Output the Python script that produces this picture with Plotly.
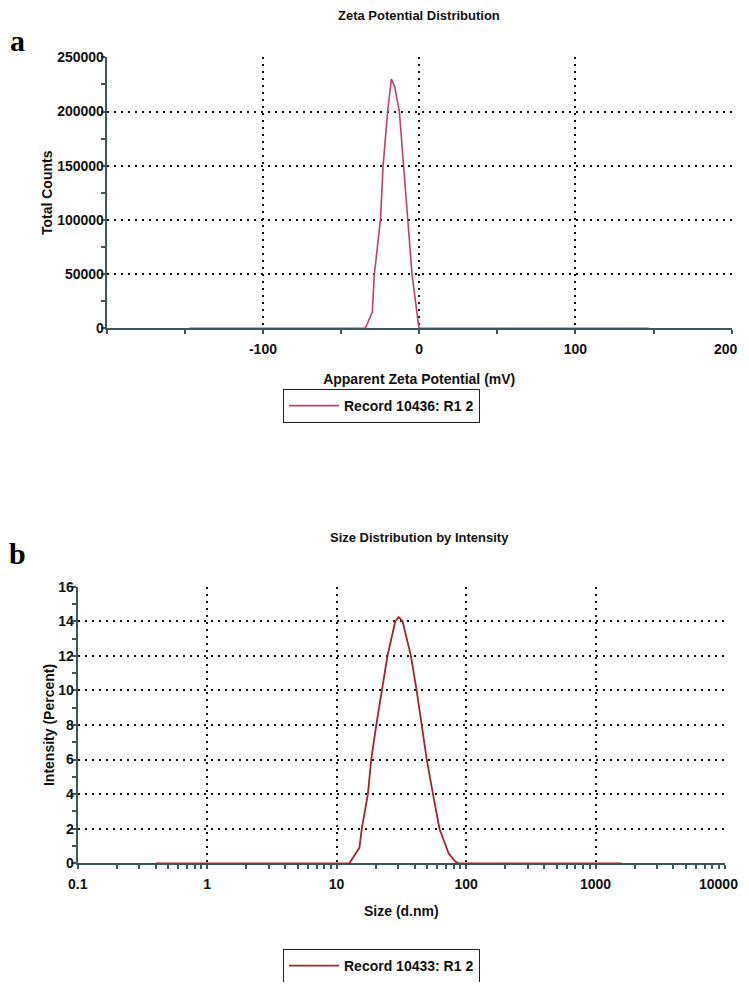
import plotly.graph_objects as go

# ---- data ----
zeta_mv = [-147, -34.5, -30, -28.7, -24.8, -23.1, -20.2, -17.8, -15.7, -12.7, -10.0, -7.4, -4.6, -0.4, 0, 147]
zeta_counts = [0, 0, 15000, 50000, 100000, 150000, 200000, 230000, 223000, 200000, 150000, 100000, 50000, 2500, 0, 0]

size_nm = [0.4, 12.55, 15.0, 15.65, 17.44, 18.5, 20.25, 22.5, 24.7, 28.4, 30.2, 32.3, 37.5, 41.5, 45.4, 49.7, 55.5, 62.3, 73.3, 82.6, 87.7, 1600]
intensity = [0, 0, 0.9, 2, 4, 6, 8, 10, 12, 14, 14.24, 14, 12, 10, 8, 6, 4, 2, 0.58, 0.1, 0, 0]

zeta_xticks = [-100, 0, 100, 200]
zeta_xlabels = ["-100", "0", "100", "200"]
zeta_yticks = [0, 50000, 100000, 150000, 200000, 250000]
size_xticks = [0.1, 1, 10, 100, 1000, 10000]
size_xlabels = ["0.1", "1", "10", "100", "1000", "10000"]
size_yticks = [0, 2, 4, 6, 8, 10, 12, 14, 16]

# page body has an 8px margin, so the figure is drawn 8px in from the window edge
OFF = 8
W, H = 749 - 2 * OFF, 990 - 2 * OFF
FONT = "Liberation Sans Narrow, Arial Narrow, Liberation Sans, Arial, sans-serif"
AX = "#3d5656"
TICKFONT = dict(family=FONT, size=14, color="#111", weight="bold")

def px_x(p):
    return (p - OFF) / W

def px_y(p):
    return 1 - (p - OFF) / H

fig = go.Figure()
fig.add_trace(go.Scatter(x=zeta_mv, y=zeta_counts, mode="lines",
                         line=dict(color="#c83c68", width=1.6),
                         name="Record 10436: R1 2", xaxis="x", yaxis="y", legend="legend"))
fig.add_trace(go.Scatter(x=size_nm, y=intensity, mode="lines",
                         line=dict(color="#a8202e", width=1.8),
                         name="Record 10433: R1 2", xaxis="x2", yaxis="y2", legend="legend2"))

common = dict(showline=True, linecolor=AX, linewidth=2, zeroline=False, automargin=False,
              showgrid=True, gridcolor="#111111", griddash="2px,5px", gridwidth=2,
              ticks="outside", ticklen=3, tickcolor=AX, tickwidth=1.5,
              tickfont=TICKFONT,
              title_font=dict(family=FONT, size=14, color="#111", weight="bold"))

# last x tick label of each axis sits at the page edge: draw it right-aligned
zeta_ticktext = zeta_xlabels[:-1] + [""]
size_ticktext = size_xlabels[:-1] + [""]

fig.update_layout(
    width=W, height=H, margin=dict(l=0, r=0, t=0, b=0, autoexpand=False),
    paper_bgcolor="white", plot_bgcolor="white", showlegend=True,
    xaxis=dict(domain=[px_x(106.7), px_x(731.7)], anchor="y", range=[-200, 200],
               tickvals=zeta_xticks, ticktext=zeta_ticktext, ticklabelstandoff=4,
               title=dict(text="Apparent Zeta Potential (mV)", standoff=18),
               minor=dict(dtick=50, tick0=-200, ticks="outside", ticklen=4, tickcolor=AX, showgrid=False),
               **common),
    yaxis=dict(domain=[px_y(328.3), px_y(57.3)], anchor="x", range=[0, 250000],
               tickvals=zeta_yticks, tickformat="d", ticklabelstandoff=-5,
               title=dict(text="Total Counts", standoff=1),
               minor=dict(dtick=25000, ticks="outside", ticklen=4, tickcolor=AX, showgrid=False),
               **common),
    xaxis2=dict(domain=[px_x(77.7), px_x(725)], anchor="y2", type="log", range=[-1, 4],
                tickvals=size_xticks, ticktext=size_ticktext, ticklabelstandoff=4,
                title=dict(text="Size (d.nm)", standoff=15),
                minor=dict(dtick="D1", ticks="outside", ticklen=4, tickcolor=AX, showgrid=False),
                **common),
    yaxis2=dict(domain=[px_y(863.3), px_y(586.7)], anchor="x2", range=[0, 16],
                tickvals=size_yticks, ticklabelstandoff=-4,
                title=dict(text="Intensity (Percent)", standoff=0),
                minor=dict(dtick=1, ticks="outside", ticklen=4, tickcolor=AX, showgrid=False),
                **common),
    legend=dict(x=px_x(283), y=px_y(406), xanchor="left", yanchor="middle",
                bordercolor="#222", borderwidth=1, bgcolor="white",
                font=dict(family=FONT, size=14, color="#111", weight="bold"), itemwidth=50),
    legend2=dict(x=px_x(283), y=px_y(966), xanchor="left", yanchor="middle",
                 bordercolor="#222", borderwidth=1, bgcolor="white",
                 font=dict(family=FONT, size=14, color="#111", weight="bold"), itemwidth=50),
    annotations=[
        dict(text="Zeta Potential Distribution", x=px_x(419), y=px_y(15), xref="paper", yref="paper",
             xanchor="center", yanchor="middle", showarrow=False,
             font=dict(family=FONT, size=13, color="#111", weight="bold")),
        dict(text="Size Distribution by Intensity", x=px_x(419), y=px_y(537), xref="paper", yref="paper",
             xanchor="center", yanchor="middle", showarrow=False,
             font=dict(family=FONT, size=13, color="#111", weight="bold")),
        dict(text="a", x=px_x(17), y=px_y(40), xref="paper", yref="paper",
             xanchor="center", yanchor="middle", showarrow=False,
             font=dict(family="Liberation Serif, DejaVu Serif, serif", size=30, color="#000", weight="bold")),
        dict(text="b", x=px_x(17), y=px_y(553), xref="paper", yref="paper",
             xanchor="center", yanchor="middle", showarrow=False,
             font=dict(family="Liberation Serif, DejaVu Serif, serif", size=30, color="#000", weight="bold")),
        dict(text=zeta_xlabels[-1], x=zeta_xticks[-1], xref="x", y=px_y(349), yref="paper",
             xanchor="right", yanchor="middle", xshift=8, showarrow=False, font=TICKFONT),
        dict(text=size_xlabels[-1], x=4, xref="x2", y=px_y(884), yref="paper",
             xanchor="right", yanchor="middle", xshift=15, showarrow=False, font=TICKFONT),
    ],
)

fig.write_html("out.html")
